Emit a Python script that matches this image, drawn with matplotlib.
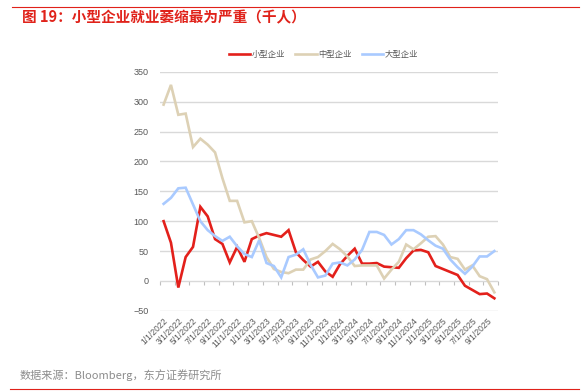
import matplotlib
matplotlib.use('Agg')
import matplotlib.pyplot as plt
import pandas as pd

# 月度类别 2022-01 ~ 2025-10
months = pd.date_range('2022-01-01', '2025-10-01', freq='MS')
month_labels = [f"{d.month}/{d.day}/{d.year}" for d in months]

small = [100, 64, -11, 40, 57, 124, 108, 70, 62, 31, 57, 32, 70, 76, 80, 77,
         74, 85, 48, 35, 24, 32, 16, 7, 28, 42, 54, 29, 29, 30, 24, 23,
         22, 38, 51, 52, 48, 25, 20, 15, 10, -8, -15, -22, -21, -29]
medium = [295, 328, 278, 280, 224, 238, 228, 215, 172, 134, 134, 98, 100, 72, 40, 20,
          15, 13, 19, 19, 36, 40, 50, 62, 53, 41, 25, 26, 26, 26, 4, 19,
          32, 61, 53, 63, 74, 75, 61, 40, 37, 19, 26, 8, 3, -19]
large = [129, 139, 155, 156, 128, 100, 85, 75, 67, 74, 58, 45, 40, 68, 30, 25,
         6, 40, 44, 53, 27, 6, 9, 29, 31, 26, 36, 52, 82, 82, 77, 61,
         70, 85, 85, 78, 68, 59, 54, 36, 23, 12, 24, 41, 41, 50]

series = [('小型企业', small, '#e3201b'),
          ('中型企业', medium, '#ddd1b5'),
          ('大型企业', large, '#a9caff')]

cjk = ['Noto Sans CJK SC', 'DejaVu Sans']
num_font = 'Liberation Sans'
grey = '#595959'

fig = plt.figure(figsize=(5.88, 3.92), dpi=100)
ax = fig.add_axes([0.272, 0.207, 0.575, 0.61])

x = list(range(len(months)))
for name, vals, col in series:
    ax.plot(x, vals, color=col, lw=1.9, label=name, solid_joinstyle='miter')

ax.set_xlim(-0.5, len(months) - 0.5)
ax.set_ylim(-50, 350)
ax.set_yticks(range(-50, 351, 50))
ax.grid(axis='y', color='#d9d9d9', lw=1)
ax.set_axisbelow(True)
for s in ax.spines.values():
    s.set_visible(False)

ax.set_xticks(x[::2])
ax.set_xticklabels(month_labels[::2], rotation=45, ha='right', va='top',
                   rotation_mode='anchor', fontsize=6.2, color=grey, family=num_font)
ax.tick_params(axis='x', length=0, pad=4)
ax.tick_params(axis='y', length=0, pad=8, labelsize=6.5, labelcolor=grey)
for t in ax.get_yticklabels():
    t.set_family(num_font)

# 零轴刻度线
sec = ax.secondary_xaxis(50 / 400)
sec.set_xticks([i - 0.5 for i in x[::2]] + [len(months) - 0.5])
sec.set_xticklabels([])
sec.tick_params(axis='x', length=3, color='#bfbfbf', width=0.8)
sec.spines['bottom'].set_visible(False)

fig.legend(loc='center', bbox_to_anchor=(0.55, 0.862), ncol=3, frameon=False,
           handlelength=2.6, handletextpad=0.15, columnspacing=1.2,
           prop={'family': cjk, 'size': 6}, labelcolor=grey)

fig.text(0.037, 0.956, '图 19：小型企业就业萎缩最为严重（千人）', color='#e0221a',
         fontsize=10.5, fontweight='bold', family=cjk, va='center', ha='left')
fig.text(0.034, 0.043, '数据来源：Bloomberg，东方证券研究所', color='#8c8c8c',
         fontsize=8, family=cjk, va='center', ha='left')

fig.add_artist(plt.Line2D([0.02, 0.985], [0.982, 0.982], color='#e0221a', lw=0.8,
                          transform=fig.transFigure))
fig.add_artist(plt.Line2D([0.017, 0.985], [0.008, 0.008], color='#e0221a', lw=0.8,
                          transform=fig.transFigure))

fig.savefig('out.png', dpi=100)
